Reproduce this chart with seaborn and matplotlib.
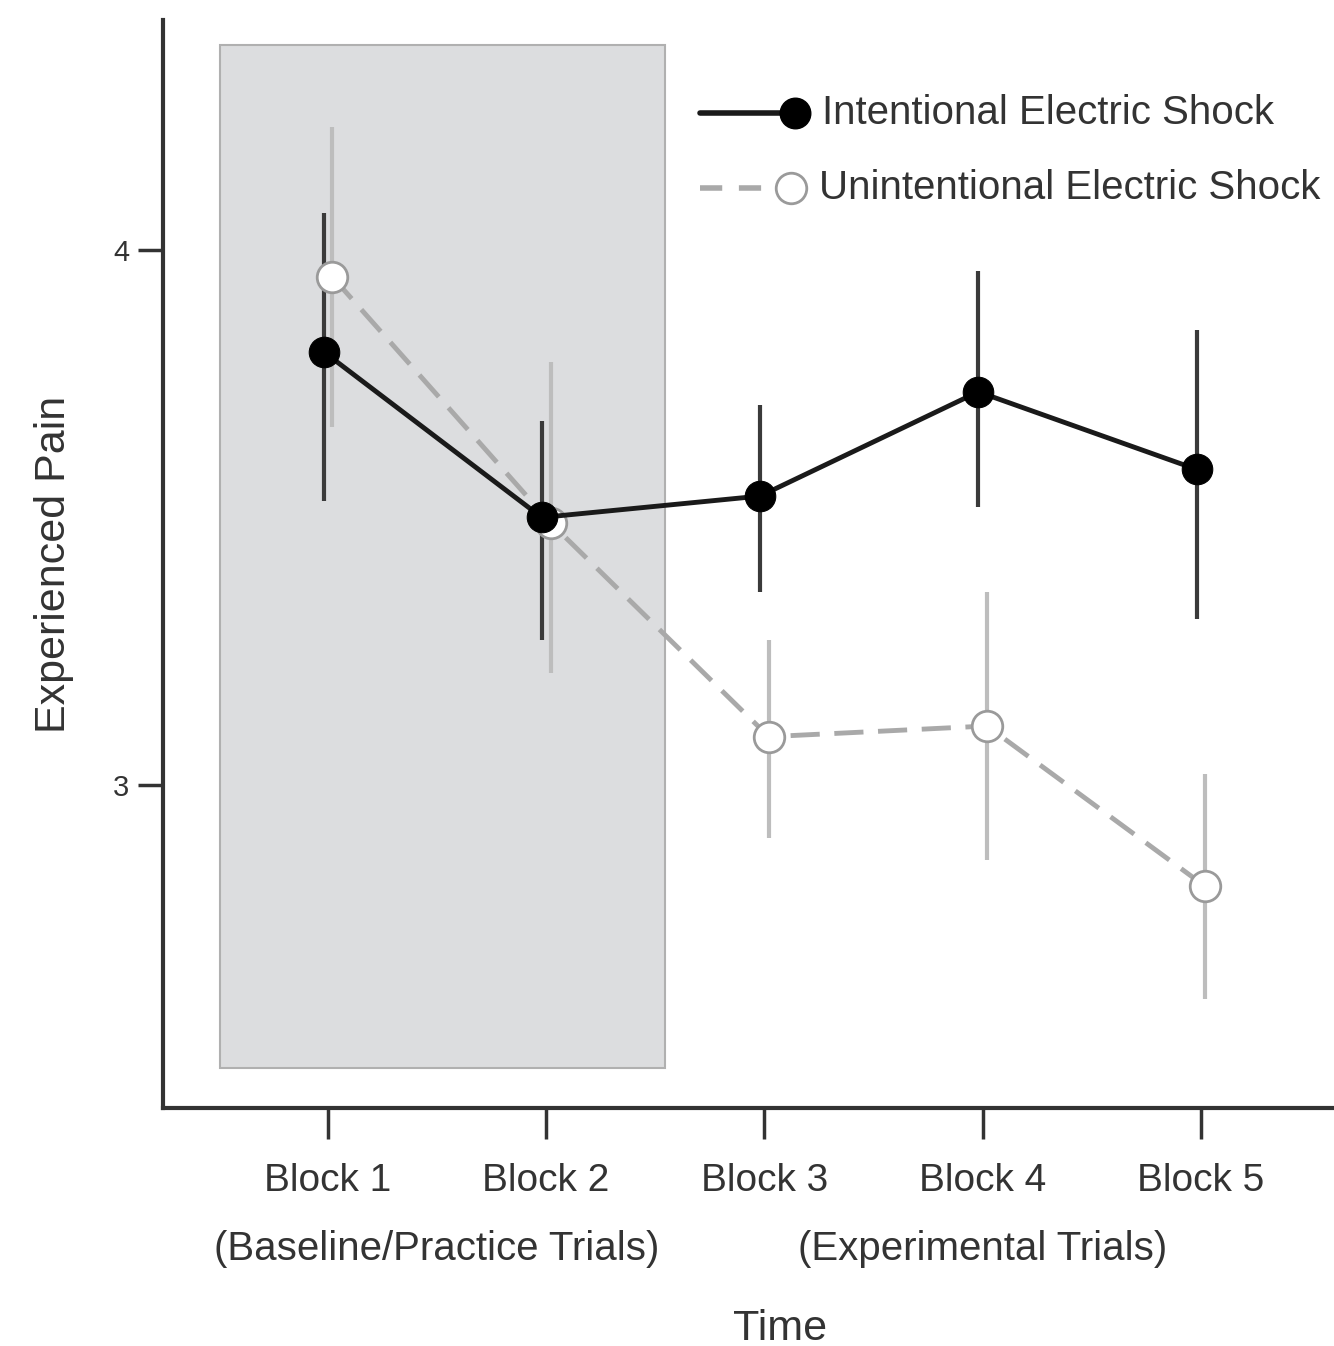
import numpy as np
import pandas as pd
import matplotlib
matplotlib.use("Agg")
import matplotlib.pyplot as plt
from matplotlib.patches import Rectangle
from matplotlib.lines import Line2D
import seaborn as sns

# values
blocks = [1, 2, 3, 4, 5]
block_labels = ["Block 1", "Block 2", "Block 3", "Block 4", "Block 5"]
intentional_mean = [3.81, 3.50, 3.54, 3.735, 3.59]
intentional_lo = [3.53, 3.27, 3.36, 3.52, 3.31]
intentional_hi = [4.07, 3.68, 3.71, 3.96, 3.85]
unintentional_mean = [3.95, 3.49, 3.09, 3.11, 2.81]
unintentional_lo = [3.67, 3.21, 2.90, 2.86, 2.60]
unintentional_hi = [4.23, 3.79, 3.27, 3.36, 3.02]
series_names = ["Intentional Electric Shock", "Unintentional Electric Shock"]

df = pd.DataFrame({
    "block": blocks * 2,
    "pain": intentional_mean + unintentional_mean,
    "lo": intentional_lo + unintentional_lo,
    "hi": intentional_hi + unintentional_hi,
    "cond": [series_names[0]] * 5 + [series_names[1]] * 5,
})
dodge = {series_names[0]: -0.02, series_names[1]: 0.02}
df["x"] = df["block"] + df["cond"].map(dodge)

sns.set_style("white")
plt.rcParams["font.family"] = ["Liberation Sans", "DejaVu Sans"]

fig = plt.figure(figsize=(13.34, 13.46), dpi=100)
ax = fig.add_axes([0.122, 0.177, 0.878, 0.808])

# shaded baseline region
ax.add_patch(Rectangle((0.505, 2.471), 2.546 - 0.505, 4.383 - 2.471,
                       facecolor="#dcdddf", edgecolor="#b0b0b0", lw=1.5, zorder=0))

grey = "#a9a9a9"
unint = df[df["cond"] == series_names[1]]
inten = df[df["cond"] == series_names[0]]

# error bars
ax.vlines(unint["x"], unint["lo"], unint["hi"], color="#bdbdbd", lw=3, zorder=1)
ax.vlines(inten["x"], inten["lo"], inten["hi"], color="#3a3a3a", lw=3, zorder=2)

sns.lineplot(data=unint, x="x", y="pain", ax=ax, color=grey, lw=3.5,
             linestyle=(0, (6, 3)), marker="o", markersize=22,
             markerfacecolor="white", markeredgecolor="#9a9a9a",
             markeredgewidth=2, zorder=3)
sns.lineplot(data=inten, x="x", y="pain", ax=ax, color="#1a1a1a", lw=3.5,
             marker="o", markersize=22, markerfacecolor="black",
             markeredgecolor="black", zorder=4)

ax.set_xlim(0.243, 5.61)
ax.set_ylim(2.396, 4.43)
ax.set_xticks(blocks)
ax.set_xticklabels(block_labels, fontsize=28, color="#333333")
ax.set_yticks([3, 4])
ax.set_yticklabels(["3", "4"], fontsize=21, color="#333333")
ax.tick_params(axis="x", bottom=True, length=22, width=2.5, color="#333333", pad=18)
ax.tick_params(axis="y", left=True, length=18, width=2.5, color="#333333", pad=6)
sns.despine(ax=ax)
for s in ["left", "bottom"]:
    ax.spines[s].set_linewidth(3)
    ax.spines[s].set_color("#333333")
ax.set_xlabel("")
ax.set_ylabel("Experienced Pain", fontsize=31, color="#333333", labelpad=28)

# second-row group labels and axis title
ax.text(1.5, -0.13, "(Baseline/Practice Trials)", transform=ax.get_xaxis_transform(),
        ha="center", va="center", fontsize=29, color="#333333")
ax.text(4.0, -0.13, "(Experimental Trials)", transform=ax.get_xaxis_transform(),
        ha="center", va="center", fontsize=29, color="#333333")
ax.text(3.07, -0.203, "Time", transform=ax.get_xaxis_transform(),
        ha="center", va="center", fontsize=31, color="#333333")

# legend drawn by hand (marker at the right end of the sample line)
ax.add_line(Line2D([0.459, 0.540], [0.9145, 0.9145], transform=ax.transAxes,
                   color="#1a1a1a", lw=4))
ax.add_line(Line2D([0.540], [0.9145], transform=ax.transAxes, marker="o",
                   markersize=22, color="black"))
ax.add_line(Line2D([0.459, 0.536], [0.8456, 0.8456], transform=ax.transAxes,
                   color=grey, lw=4, linestyle=(0, (4, 3))))
ax.add_line(Line2D([0.536], [0.8456], transform=ax.transAxes, marker="o",
                   markersize=22, markerfacecolor="white",
                   markeredgecolor="#9a9a9a", markeredgewidth=2, color=grey))
ax.text(0.563, 0.9145, series_names[0], transform=ax.transAxes, va="center",
        fontsize=29, color="#333333")
ax.text(0.56, 0.8456, series_names[1], transform=ax.transAxes, va="center",
        fontsize=29, color="#333333")

fig.savefig("out.png", dpi=100)
